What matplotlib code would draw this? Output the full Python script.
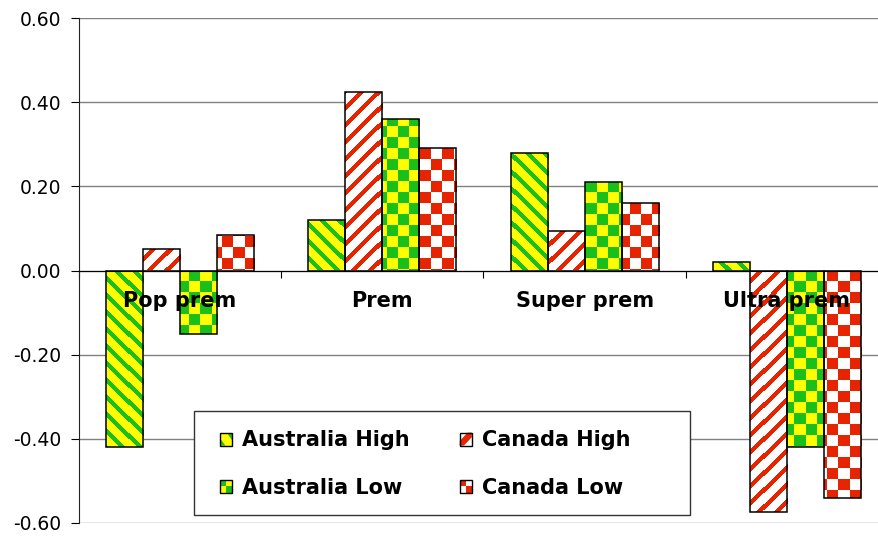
import matplotlib
# headless
matplotlib.use('Agg')
import matplotlib.pyplot as plt
import numpy as np
from matplotlib.colors import to_rgb
from matplotlib.patches import Rectangle, Polygon
from matplotlib.legend_handler import HandlerBase

categories = ['Pop prem', 'Prem', 'Super prem', 'Ultra prem']
series_names = ['Australia High', 'Canada High', 'Australia Low', 'Canada Low']
aus_high = [-0.42, 0.12, 0.28, 0.02]
can_high = [0.05, 0.425, 0.095, -0.575]
aus_low = [-0.15, 0.36, 0.21, -0.42]
can_low = [0.085, 0.29, 0.16, -0.54]
y_ticks = [-0.6, -0.4, -0.2, 0.0, 0.2, 0.4, 0.6]

YELLOW = '#ffff00'
GREEN = '#1abf1a'
RED = '#e62400'
WHITE = '#ffffff'

# fill style per series: (pattern, base colour, mark colour)
styles = [('back', YELLOW, GREEN), ('fwd', WHITE, RED),
          ('check', YELLOW, GREEN), ('check', WHITE, RED)]

W, H, DPI = 879, 536, 100
AX_L, AX_R, AX_T, AX_B = 79, 888, 18, 523   # plot area in pixels (runs past right edge)


def pattern_image(kind, base, mark, nrows, ncols, row0):
    """Pixel pattern covering the whole plot area; row0 = pixel row of y=0."""
    i, j = np.mgrid[0:nrows, 0:ncols]
    i = i - row0
    if kind == 'back':
        mask = (j - i) % 17 < 6
    elif kind == 'fwd':
        mask = (i + j) % 17 < 6
    else:
        mask = ((i // 11) + (j // 11)) % 2 == 0
    return np.where(mask[..., None], np.array(to_rgb(mark)), np.array(to_rgb(base)))


class Swatch:
    def __init__(self, kind, base, mark):
        self.kind, self.base, self.mark = kind, base, mark


class SwatchHandler(HandlerBase):
    def legend_artist(self, legend, orig_handle, fontsize, handlebox):
        x0, y0 = -handlebox.xdescent, -handlebox.ydescent
        w, h = handlebox.width, handlebox.height
        tr = handlebox.get_transform()
        s = orig_handle
        arts = [Rectangle((x0, y0), w, h, fc=s.base, ec='none')]
        if s.kind == 'check':
            arts.append(Rectangle((x0, y0 + h / 2), w / 2, h / 2, fc=s.mark, ec='none'))
            arts.append(Rectangle((x0 + w / 2, y0), w / 2, h / 2, fc=s.mark, ec='none'))
        elif s.kind == 'fwd':
            pts = [(x0, y0), (x0 + 0.35 * w, y0), (x0 + w, y0 + 0.65 * h),
                   (x0 + w, y0 + h), (x0 + 0.65 * w, y0 + h), (x0, y0 + 0.35 * h)]
            arts.append(Polygon(pts, closed=True, fc=s.mark, ec='none'))
        else:
            arts.append(Polygon([(x0 + 0.55 * w, y0 + h), (x0 + w, y0 + h), (x0 + w, y0 + 0.45 * h)],
                                closed=True, fc=s.mark, ec='none'))
            arts.append(Polygon([(x0, y0), (x0 + 0.45 * w, y0), (x0, y0 + 0.55 * h)],
                                closed=True, fc=s.mark, ec='none'))
        arts.append(Rectangle((x0, y0), w, h, fc='none', ec='black', lw=1))
        for a in arts:
            a.set_transform(tr)
            handlebox.add_artist(a)
        return arts[-1]


fig = plt.figure(figsize=(W / DPI, H / DPI), dpi=DPI)
fig.patch.set_facecolor('white')
ax = fig.add_axes([AX_L / W, 1 - AX_B / H, (AX_R - AX_L) / W, (AX_B - AX_T) / H])

nrows, ncols = AX_B - AX_T, AX_R - AX_L
x = np.arange(len(categories))
bw = 0.183
series = [aus_high, can_high, aus_low, can_low]

for k, (vals, style) in enumerate(zip(series, styles)):
    bars = ax.bar(x + (k - 1.5) * bw, vals, bw, facecolor='none',
                  edgecolor='black', linewidth=1.1, zorder=3)
    img = pattern_image(*style, nrows, ncols, nrows // 2)
    for b in bars:
        im = ax.imshow(img, extent=(0, 1, 0, 1), transform=ax.transAxes,
                       interpolation='nearest', aspect='auto', zorder=2)
        im.set_clip_path(b)

ax.set_xlim(-0.5, len(categories) - 0.5)
ax.set_ylim(-0.6, 0.6)
ax.set_yticks(y_ticks)
ax.set_yticklabels([f'{v:.2f}' for v in y_ticks])
ax.yaxis.grid(True, color='#808080', lw=1)
ax.set_axisbelow(True)

ax.spines['top'].set_visible(False)
ax.spines['right'].set_visible(False)
ax.spines['bottom'].set_position(('data', 0))
ax.spines['bottom'].set_color('black')
ax.spines['bottom'].set_zorder(2.5)
ax.spines['left'].set_color('#222222')

# category labels sit on top of the bars, so draw them as text
ax.set_xticks(np.arange(len(categories) + 1) - 0.5)
ax.set_xticklabels([])
ax.tick_params(axis='x', length=5, direction='out', color='black')
for xi, name in zip(x, categories):
    ax.annotate(name, xy=(xi, 0), xytext=(0, -15), textcoords='offset points',
                ha='center', va='top', fontsize=15, fontweight='bold', zorder=10)
ax.tick_params(axis='y', length=6, direction='out', pad=7, labelsize=13.5, color='black')

# legend box
fig.add_artist(Rectangle((194 / W, 1 - 515 / H), 496 / W, 104 / H, transform=fig.transFigure,
                         fc='white', ec='#333333', lw=1, zorder=5))
handles = [Swatch(*s) for s in styles]
order = [0, 2, 1, 3]
leg = fig.legend([handles[i] for i in order], [series_names[i] for i in order],
                 handler_map={Swatch: SwatchHandler()}, ncol=2,
                 loc='center left', bbox_to_anchor=(220 / W, 1 - 464 / H),
                 frameon=False, borderpad=0, borderaxespad=0,
                 prop={'weight': 'bold', 'size': 15},
                 handlelength=0.58, handleheight=0.58, handletextpad=0.48,
                 labelspacing=1.3, columnspacing=2.4)
leg.set_zorder(6)

fig.savefig('out.png', dpi=DPI, facecolor='white')
